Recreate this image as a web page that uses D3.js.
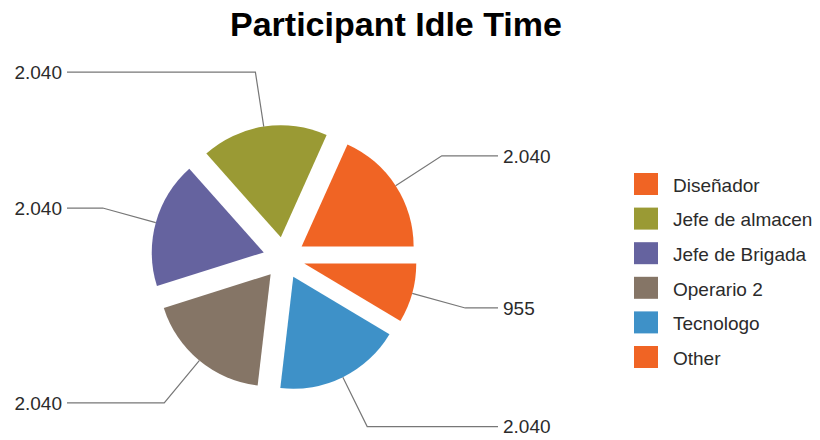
<!DOCTYPE html>
<html>
<head>
<meta charset="utf-8">
<script src="https://cdn.jsdelivr.net/npm/d3@7"></script>
<style>
    body{ margin: 0; background: #fff; }
    text{ font-family: "Liberation Sans", Arial, sans-serif; fill: #2b2b2b; }
    .title{ font-size: 34px; font-weight: bold; fill: #000; }
    .value{ font-size: 19px; }
    .legend text{ font-size: 19px; }
    .leader{ fill: none; stroke: #777; stroke-width: 1.2; }
</style>
</head>
<body>
<svg id="chart" width="820" height="440"></svg>
<script>
//data
const categories = ['Diseñador', 'Jefe de almacen', 'Jefe de Brigada', 'Operario 2', 'Tecnologo', 'Other'];
const values = [2040, 2040, 2040, 2040, 2040, 955];
const colors = ['#f06424', '#9a9a34', '#65639f', '#857566', '#3e91c8', '#f06424'];

const size = {w: 820, h: 440};
const center = {x: 284, y: 258};
const radius = 112;
const explode = 21;
const elbowR = 188;

const svg = d3.select('#chart');

//european number format: 2.040
const fmt = d3.formatLocale({decimal: ',', thousands: '.', grouping: [3], currency: ['', '']}).format(',d');

const data = categories.map((c, i) => ({name: c, value: values[i], color: colors[i]}));

//counter-clockwise from 3 o'clock
const pie = d3.pie()
    .value(d => d.value)
    .sort(null)
    .startAngle(Math.PI / 2)
    .endAngle(Math.PI / 2 - 2 * Math.PI);

const arc = d3.arc().innerRadius(0).outerRadius(radius);
const arcs = pie(data);

const mid = d => (d.startAngle + d.endAngle) / 2;
const polar = (a, r) => [Math.sin(a) * r, -Math.cos(a) * r];

//title
svg.append('text')
    .attr('class', 'title')
    .attr('x', 396)
    .attr('y', 36)
    .attr('text-anchor', 'middle')
    .text('Participant Idle Time');

const pieG = svg.append('g')
    .attr('transform', `translate(${center.x}, ${center.y})`);

//slices
pieG.selectAll('path.slice')
    .data(arcs)
    .join('path')
    .attr('class', 'slice')
    .attr('d', arc)
    .attr('fill', d => d.data.color)
    .attr('transform', d => {
        let p = polar(mid(d), explode);
        return `translate(${p[0]}, ${p[1]})`;
    });

//leader lines
pieG.selectAll('path.leader')
    .data(arcs)
    .join('path')
    .attr('class', 'leader')
    .attr('d', d => {
        let a = mid(d);
        let p0 = polar(a, radius + explode);
        let p1 = polar(a, elbowR);
        let right = Math.sin(a) > 0;
        let x2 = right ? 498 - center.x : 67 - center.x;
        return d3.line()([p0, p1, [x2, p1[1]]]);
    });

//value labels
pieG.selectAll('text.value')
    .data(arcs)
    .join('text')
    .attr('class', 'value')
    .attr('x', d => Math.sin(mid(d)) > 0 ? 503 - center.x : 62 - center.x)
    .attr('y', d => polar(mid(d), elbowR)[1])
    .attr('dy', '0.36em')
    .attr('text-anchor', d => Math.sin(mid(d)) > 0 ? 'start' : 'end')
    .text(d => fmt(d.data.value));

//legend
const legend = svg.append('g')
    .attr('class', 'legend')
    .attr('transform', 'translate(634, 173)');

const rows = legend.selectAll('g')
    .data(data)
    .join('g')
    .attr('transform', (d, i) => `translate(0, ${i * 34.6})`);

rows.append('rect')
    .attr('width', 24)
    .attr('height', 22)
    .attr('fill', d => d.color);

rows.append('text')
    .attr('x', 39)
    .attr('y', 12)
    .attr('dy', '0.36em')
    .text(d => d.name);
</script>
</body>
</html>
